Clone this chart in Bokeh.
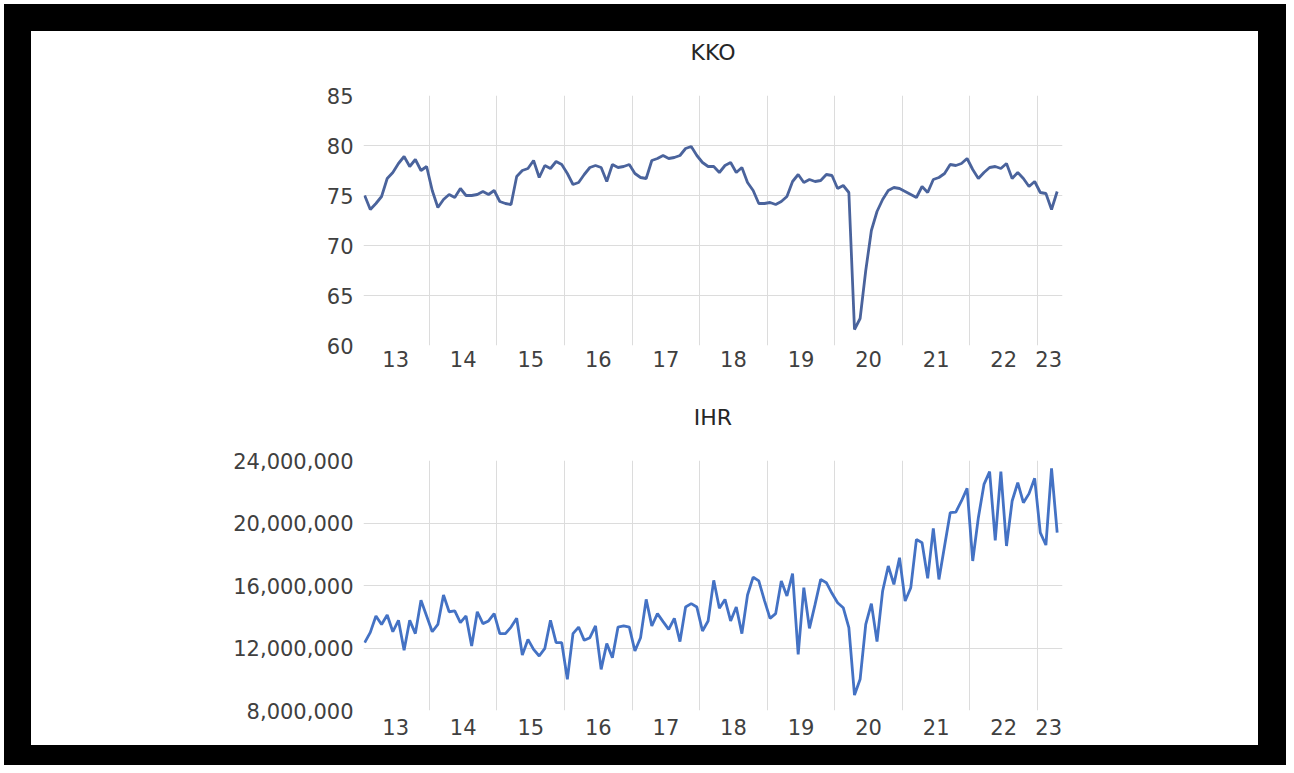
import pandas as pd
from bokeh.plotting import figure
from bokeh.layouts import column
from bokeh.models import FixedTicker, Title, NumeralTickFormatter, ColumnDataSource
from bokeh.embed import file_html
from bokeh.resources import INLINE

# ---------------- data ----------------
months = [str(p) for p in pd.period_range("2013-01", "2023-04", freq="M")]
year_labels = ["13", "14", "15", "16", "17", "18", "19", "20", "21", "22", "23"]

kko = [75.0, 73.6, 74.2, 74.9, 76.7, 77.3, 78.2, 78.9, 77.9, 78.6, 77.5, 77.9,
       75.5, 73.8, 74.6, 75.1, 74.8, 75.7, 75.0, 75.0, 75.1, 75.4, 75.1, 75.5,
       74.4, 74.2, 74.1, 76.9, 77.5, 77.7, 78.5, 76.8, 78.0, 77.7, 78.4, 78.1,
       77.2, 76.1, 76.3, 77.1, 77.8, 78.0, 77.8, 76.4, 78.1, 77.8, 77.9, 78.1,
       77.2, 76.8, 76.7, 78.5, 78.7, 79.0, 78.7, 78.8, 79.0, 79.7, 79.9, 79.0,
       78.3, 77.9, 77.9, 77.3, 78.0, 78.3, 77.3, 77.8, 76.3, 75.5, 74.2, 74.2,
       74.3, 74.1, 74.4, 74.9, 76.4, 77.1, 76.3, 76.6, 76.4, 76.5, 77.1, 77.0,
       75.7, 76.0, 75.3, 61.6, 62.7, 67.5, 71.5, 73.4, 74.6, 75.5, 75.8, 75.7,
       75.4, 75.1, 74.8, 75.9, 75.3, 76.6, 76.8, 77.2, 78.1, 78.0, 78.2, 78.7,
       77.6, 76.7, 77.3, 77.8, 77.9, 77.7, 78.2, 76.7, 77.3, 76.7, 75.9, 76.4,
       75.3, 75.2, 73.6, 75.4]

ihr = [12340000, 13000000, 14050000, 13510000, 14110000, 13040000, 13770000, 11850000,
       13770000, 12920000, 15050000, 14050000, 13040000, 13510000, 15390000, 14320000,
       14370000, 13620000, 14050000, 12130000, 14320000, 13560000, 13730000, 14200000,
       12920000, 12920000, 13340000, 13900000, 11550000, 12550000, 11910000, 11490000,
       11980000, 13770000, 12340000, 12340000, 10000000, 12920000, 13340000, 12490000,
       12660000, 13410000, 10630000, 12280000, 11380000, 13340000, 13410000, 13340000,
       11810000, 12660000, 15110000, 13410000, 14200000, 13690000, 13190000, 13900000,
       12410000, 14620000, 14840000, 14620000, 13090000, 13730000, 16330000, 14540000,
       15110000, 13730000, 14620000, 12920000, 15390000, 16540000, 16290000, 15050000,
       13900000, 14200000, 16290000, 15330000, 16760000, 11590000, 15860000, 13260000,
       14790000, 16390000, 16180000, 15500000, 14900000, 14580000, 13300000, 8990000,
       10000000, 13510000, 14840000, 12410000, 15650000, 17250000, 16070000, 17780000,
       15010000, 15860000, 18950000, 18740000, 16460000, 19660000, 16390000, 18530000,
       20660000, 20700000, 21410000, 22220000, 17570000, 20340000, 22470000, 23290000,
       18890000, 23290000, 18530000, 21410000, 22580000, 21300000, 21880000, 22860000,
       19380000, 18590000, 23500000, 19380000]

src = ColumnDataSource(dict(i=list(range(len(months))), month=months, kko=kko, ihr=ihr))

# year label positions (centre of each year's months) and year boundaries
label_pos = []
boundaries = []
for yl in year_labels:
    idx = [k for k, m in enumerate(months) if m[2:4] == yl]
    label_pos.append((idx[0] + idx[-1]) / 2)
    if idx[0] > 0:
        boundaries.append(idx[0] - 0.5)

FONT = "DejaVu Sans"
TXT = "#404040"
GRID = "#dcdcdc"
PX_PER_MONTH = 5.63
X0 = -0.21
FRAME_W = 699


def make_fig(title, height, top, bottom, y0, y1, ticks, grid_ticks, x_standoff, fmt=None):
    p = figure(width=1227, height=height, output_backend="svg", toolbar_location=None,
               x_range=(X0, X0 + FRAME_W / PX_PER_MONTH), y_range=(y0, y1),
               min_border_left=332, min_border_right=196,
               min_border_top=top, min_border_bottom=bottom,
               outline_line_color=None)
    p.outline_line_alpha = 0
    p.background_fill_color = "white"
    p.border_fill_color = "white"
    p.title.text = ""
    # spacer (closest to the frame), then the visible title above it
    p.add_layout(Title(text=" ", text_font=FONT, text_font_size="22px", standoff=4), "above")
    p.add_layout(Title(text=title, align="center", text_font=FONT, text_font_size="22px",
                       text_font_style="normal", text_color="#262626", standoff=0), "above")
    p.xaxis.ticker = FixedTicker(ticks=label_pos)
    p.xaxis.major_label_overrides = {lp: yl for lp, yl in zip(label_pos, year_labels)}
    p.yaxis.ticker = FixedTicker(ticks=ticks)
    if fmt:
        p.yaxis.formatter = NumeralTickFormatter(format=fmt)
    for ax in (p.xaxis, p.yaxis):
        ax.axis_line_color = None
        ax.major_tick_line_color = None
        ax.minor_tick_line_color = None
        ax.major_tick_out = 0
        ax.major_label_text_font = FONT
        ax.major_label_text_font_size = "21px"
        ax.major_label_text_color = TXT
    p.xaxis.major_label_standoff = x_standoff
    p.yaxis.major_label_standoff = 10
    p.xgrid.ticker = FixedTicker(ticks=boundaries)
    p.ygrid.ticker = FixedTicker(ticks=grid_ticks)
    p.xgrid.grid_line_color = GRID
    p.ygrid.grid_line_color = GRID
    return p


p1 = make_fig("KKO", 359, 64, 45, 60, 85, [60, 65, 70, 75, 80, 85], [65, 70, 75, 80], 5)
p1.line("i", "kko", source=src, line_color="#4a639c", line_width=2.8)

p2 = make_fig("IHR", 355, 70, 35, 8000000, 24000000,
              [8000000, 12000000, 16000000, 20000000, 24000000],
              [12000000, 16000000, 20000000], 8, fmt="0,0")
p2.line("i", "ihr", source=src, line_color="#4472c4", line_width=2.8)

inner = column(p1, p2, spacing=0, styles={"background-color": "white"})
frame = column(inner, styles={"background-color": "black", "padding": "27px 28px 20px 27px"})
page = column(frame, styles={"background-color": "white", "padding": "4px 0px 0px 4px"})

open("out.html", "w").write(file_html(page, INLINE))
